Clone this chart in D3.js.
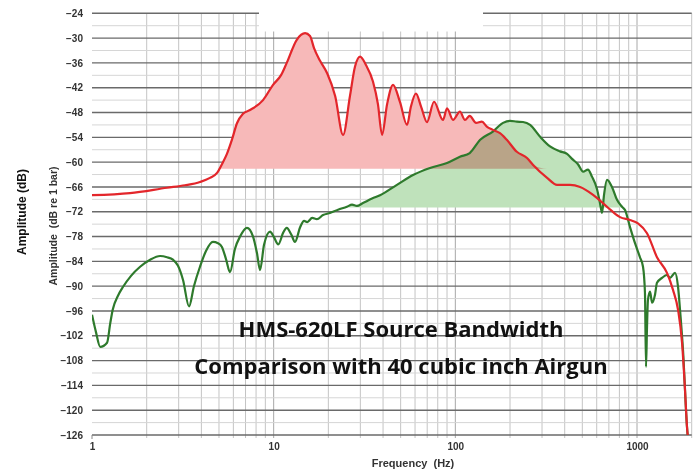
<!DOCTYPE html>
<html>
<head>
<meta charset="utf-8">
<script src="https://cdn.jsdelivr.net/npm/d3@7"></script>
<style>
  body { margin: 0; background: #fff; }
  svg { display: block; }
</style>
</head>
<body>
<svg id="chart" width="697" height="469"></svg>
<script>
// HMS-620LF (red) vs 40 cu.in. airgun (green)
const redFreq = [1, 1.62, 2.59, 3.25, 3.93, 4.46, 4.88, 5.19, 5.53, 5.9, 6.28, 6.78, 7.41, 8.74, 9.92, 11, 11.8, 13.4, 14.9, 15.85, 16.7, 18, 19.7, 21.8, 24.1, 26.3, 28, 29.9, 32.2, 35.2, 37.5, 39.5, 42.1, 45.4, 49.6, 54.2, 57, 60.7, 64.7, 69.8, 76.3, 85.5, 90, 97.1, 106, 113, 120, 130, 140, 149, 161, 176, 192, 218, 248, 268, 320, 363, 428, 486, 573, 684, 806, 915, 1012, 1135, 1288, 1462, 1578, 1682, 1770, 1837, 1884, 1909];
const redDb = [-68, -67.5, -66.2, -65.6, -64.8, -63.8, -62.6, -60.5, -58, -54.5, -50.6, -48.3, -47.4, -45, -41.3, -38.9, -36, -30.4, -28.8, -29.5, -32.5, -35.5, -38.5, -44, -53.4, -44, -37, -34.5, -36.5, -40.5, -46, -53.4, -46, -41.3, -45.5, -51, -46.5, -43.4, -46.5, -50.3, -45.4, -49.8, -47, -49.8, -47.8, -49.8, -48.8, -50.5, -50.2, -51.4, -52.2, -53, -54.6, -57.5, -59, -60.7, -63.8, -65.5, -65.5, -66, -67.9, -70.8, -73.3, -74, -74.8, -77.2, -83, -86.8, -90.9, -95.7, -103.7, -115, -124, -127];

const greenFreq = [1, 1.05, 1.11, 1.21, 1.26, 1.3, 1.39, 1.48, 1.64, 1.84, 2.09, 2.37, 2.59, 2.79, 2.97, 3.17, 3.42, 3.64, 3.93, 4.24, 4.63, 4.94, 5.19, 5.47, 5.75, 6.12, 6.53, 7.13, 7.7, 8.09, 8.41, 8.85, 9.55, 10, 10.6, 11.3, 11.8, 12.5, 13.1, 14, 14.7, 15.3, 16.3, 17.3, 18.7, 20.4, 22.6, 25.3, 27, 28.7, 31, 34.8, 38.5, 47.7, 58.5, 72.5, 90, 106, 120, 137, 161, 183, 200, 218, 236, 258, 292, 332, 377, 412, 444, 473, 505, 537, 565, 602, 626, 642, 658, 684, 728, 776, 827, 859, 915, 975, 1038, 1079, 1106, 1121, 1135, 1149, 1180, 1210, 1257, 1288, 1373, 1462, 1519, 1619, 1682, 1725, 1791, 1884, 1909];
const greenDb = [-96.9, -101, -104.7, -103.7, -99, -95.7, -92.3, -90.2, -87.5, -85.3, -83.6, -82.7, -83, -83.6, -85, -88.5, -94.9, -90, -85.3, -81.5, -79.3, -79.6, -80.5, -83.5, -86.6, -81, -78, -75.9, -78, -82, -86.1, -80, -76.8, -78, -79.9, -77, -75.9, -77.5, -79.3, -75.7, -74.2, -74.5, -73.5, -73.8, -72.8, -72.3, -71.5, -70.8, -70.3, -70.6, -69.9, -68.8, -68, -65.5, -63.1, -61.4, -60.2, -58.7, -57.8, -54.6, -52.6, -50.5, -50, -50.2, -50.3, -51, -53.8, -56.2, -57.4, -58, -59.4, -60.5, -62.3, -61.8, -63.5, -66.5, -70, -72.3, -68, -64.3, -66, -69.1, -70.8, -71.6, -75.7, -79.6, -83, -85.3, -91.6, -109.5, -100, -93.3, -91.3, -94, -92, -89.2, -88, -87.3, -88, -86.8, -90.2, -95.7, -105.4, -124, -127];

const redShadeFloor = -61.6;
const greenShadeFloor = -71;

const yTicks = [-24, -30, -36, -42, -48, -54, -60, -66, -72, -78, -84, -90, -96, -102, -108, -114, -120, -126];
const xTicks = [1, 10, 100, 1000];
const titleLines = ["HMS-620LF Source Bandwidth", "Comparison with 40 cubic inch Airgun"];

const svg = d3.select("#chart");
const plotL = 92, plotR = 691.7, plotT = 13.3, plotB = 435;

const x = d3.scaleLog().domain([1, 2000]).range([plotL, plotR]);
const y = d3.scaleLinear().domain([-126, -24]).range([plotB, plotT]);

svg.append("defs").append("clipPath").attr("id", "plotclip")
  .append("rect").attr("x", plotL).attr("y", plotT - 2).attr("width", plotR - plotL).attr("height", plotB - plotT + 2);

/**** GRID ****/
const grid = svg.append("g");
let vlines = [];
[1, 10, 100, 1000].forEach(function (d) {
  for (let m = 1; m < 10; m++) {
    const f = d * m;
    if (f > 1 && f <= 2000) vlines.push(f);
  }
});
grid.selectAll(".vl").data(vlines).enter().append("line")
  .attr("x1", d => x(d)).attr("x2", d => x(d))
  .attr("y1", plotT).attr("y2", plotB + 3)
  .attr("stroke", d => xTicks.includes(d) ? "#a8a8a8" : "#c4c4c4")
  .attr("stroke-width", 1);

const minorY = d3.range(-123, -24, 6);
grid.selectAll(".hm").data(minorY).enter().append("line")
  .attr("x1", plotL).attr("x2", plotR)
  .attr("y1", d => y(d)).attr("y2", d => y(d))
  .attr("stroke", "#d6d6d6").attr("stroke-width", 1);

grid.selectAll(".hM").data(yTicks).enter().append("line")
  .attr("x1", plotL).attr("x2", plotR)
  .attr("y1", d => y(d)).attr("y2", d => y(d))
  .attr("stroke", "#6a6a6a").attr("stroke-width", 1.4);

// tick at 1 Hz
grid.append("line").attr("x1", plotL).attr("x2", plotL).attr("y1", plotB).attr("y2", plotB + 4)
  .attr("stroke", "#888");

/**** SHADES ****/
const plot = svg.append("g").attr("clip-path", "url(#plotclip)");
const redPts = redFreq.map((f, i) => [f, redDb[i]]);
const greenPts = greenFreq.map((f, i) => [f, greenDb[i]]);

function shade(pts, floor) {
  return d3.area()
    .x(d => x(d[0]))
    .y0(y(floor))
    .y1(d => y(Math.max(d[1], floor)))
    .curve(d3.curveMonotoneX)(pts);
}

plot.append("path").attr("d", shade(greenPts, greenShadeFloor))
  .attr("fill", "#bfe2bb").style("mix-blend-mode", "multiply");
plot.append("path").attr("d", shade(redPts, redShadeFloor))
  .attr("fill", "#f7b9b9").style("mix-blend-mode", "multiply");

/**** LINES ****/
const line = d3.line().x(d => x(d[0])).y(d => y(d[1])).curve(d3.curveMonotoneX);
plot.append("path").attr("d", line(greenPts))
  .attr("fill", "none").attr("stroke", "#2e7a2c").attr("stroke-width", 2.2);
plot.append("path").attr("d", line(redPts))
  .attr("fill", "none").attr("stroke", "#e3262b").attr("stroke-width", 2.2);

/**** AXES ****/
const yAxis = svg.append("g").attr("transform", "translate(" + plotL + ",0)")
  .call(d3.axisLeft(y).tickValues(yTicks).tickSize(0).tickPadding(9));
yAxis.select(".domain").remove();
yAxis.selectAll("text")
  .style("font-family", "'Liberation Sans', Arial, sans-serif")
  .style("font-weight", "bold").style("font-size", "10px").attr("fill", "#333");

const xAxis = svg.append("g").attr("transform", "translate(0," + plotB + ")")
  .call(d3.axisBottom(x).tickValues(xTicks).tickFormat(d3.format("d")).tickSize(0).tickPadding(8));
xAxis.select(".domain").remove();
xAxis.selectAll("text")
  .style("font-family", "'Liberation Sans', Arial, sans-serif")
  .style("font-weight", "bold").style("font-size", "10px").attr("fill", "#333");

svg.append("text").attr("x", 413).attr("y", 467).attr("text-anchor", "middle")
  .style("font-family", "'Liberation Sans', Arial, sans-serif").style("font-weight", "bold")
  .style("font-size", "11px").attr("fill", "#333").attr("xml:space", "preserve")
  .text("Frequency  (Hz)");

svg.append("text").attr("transform", "translate(26,212) rotate(-90)").attr("text-anchor", "middle")
  .style("font-family", "'Liberation Sans', Arial, sans-serif").style("font-weight", "bold")
  .style("font-size", "12px").attr("fill", "#111")
  .text("Amplitude (dB)");

svg.append("text").attr("transform", "translate(57,226) rotate(-90)").attr("text-anchor", "middle")
  .style("font-family", "'Liberation Sans', Arial, sans-serif").style("font-weight", "bold")
  .style("font-size", "10.5px").attr("fill", "#333").attr("xml:space", "preserve")
  .text("Amplitude  (dB re 1 bar)");

/**** TITLE ****/
svg.selectAll(".title").data(titleLines).enter().append("text")
  .attr("x", 401).attr("y", (d, i) => 337 + i * 37)
  .attr("text-anchor", "middle")
  .style("font-family", "'Open Sans', Lato, sans-serif").style("font-weight", "bold")
  .style("font-size", "22px").attr("fill", "#111")
  .text(d => d);

// blank patch over the top of the grid
svg.append("rect").attr("x", 259).attr("y", 0).attr("width", 224).attr("height", 31.5).attr("fill", "#fff");
</script>
</body>
</html>
